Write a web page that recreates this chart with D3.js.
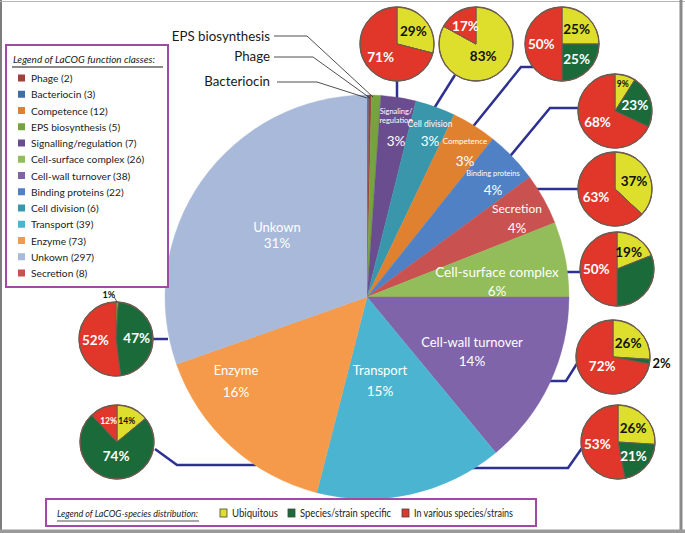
<!DOCTYPE html>
<html><head><meta charset="utf-8">
<script src="https://cdn.jsdelivr.net/npm/d3@7"></script>
<style>body{margin:0;background:#fff}svg{display:block;font-family:Lato,"Open Sans",sans-serif}</style>
</head><body><svg id="c" width="685" height="533"></svg>
<script>
// ---------- DATA ----------
const classNames = ["Phage","Bacteriocin","Competence","EPS biosynthesis","Signalling/regulation","Cell-surface complex","Cell-wall turnover","Binding proteins","Cell division","Transport","Enzyme","Unkown","Secretion"];
const classCounts = [2,3,12,5,7,26,38,22,6,39,73,297,8];
const classColors = ["#a0413d","#3d6ea5","#e0812f","#77a240","#6a4d8e","#93bc5a","#8064a9","#4f81c4","#3a97ab","#4bb5d1","#f59a4a","#a8b9d9","#c9514f"];
// main pie, clockwise from 12 o'clock
const pieOrder = ["Bacteriocin","Phage","EPS biosynthesis","Signalling/regulation","Cell division","Competence","Binding proteins","Secretion","Cell-surface complex","Cell-wall turnover","Transport","Enzyme","Unkown"];
const pieShares = [0.15,0.2,0.75,2.8,3.2,3.6,4.2,4.1,6,14,15,15.6,30.4];
const pieLabels = ["","","","3%","3%","3%","4%","4%","6%","14%","15%","16%","31%"];
const pieNames = ["","","","Signaling/|regulation","Cell division","Competence","Binding proteins","Secretion","Cell-surface complex","Cell-wall turnover","Transport","Enzyme","Unkown"];
const outsideNames = ["EPS biosynthesis","Phage","Bacteriocin"];
// species distribution pies
const distCategories = ["Ubiquitous","Species/strain specific","In various species/strains"];
const distColors = ["#dede2c","#1b6b3a","#e1362a"];
const distTextColors = ["#111","#fff","#fff"];
const distClasses = ["Signalling/regulation","Cell division","Competence","Binding proteins","Secretion","Cell-surface complex","Cell-wall turnover","Transport","Unkown","Enzyme"];
const distUbiquitous = [29,83,25,9,37,19,26,26,1,14];
const distSpecific   = [0,0,25,23,0,31,2,21,47,74];
const distVarious    = [71,17,50,68,63,50,72,53,52,12];
const distUnlabeled  = ["Cell-surface complex|1"];

// ---------- LAYOUT ----------
const svg = d3.select("#c");
const colorOf = d3.scaleOrdinal().domain(classNames).range(classColors);
const CX = 367, CY = 297, R = 202;

const mainLabelLayout = {
  "Signalling/regulation": {x:396, ny:116, py:141, ns:7.5, lh:8.5},
  "Cell division": {x:430, ny:124, py:141, ns:8.5},
  "Competence": {x:465, ny:141, py:161, ns:8},
  "Binding proteins": {x:493, ny:173, py:190, ns:7.5},
  "Secretion": {x:517, ny:208, py:228, ns:12},
  "Cell-surface complex": {x:497, ny:272, py:291, ns:13.5},
  "Cell-wall turnover": {x:472, ny:342, py:361, ns:13},
  "Transport": {x:380, ny:370, py:391, ns:13},
  "Enzyme": {x:236, ny:370, py:392, ns:13},
  "Unkown": {x:277, ny:227, py:243, ns:13}
};
const outsideLayout = {
  "EPS biosynthesis": {tx:270, ty:36, pts:[[274,36],[307,36],[373,97]]},
  "Phage": {tx:270, ty:56, pts:[[274,57],[313,57],[370,98]]},
  "Bacteriocin": {tx:270, ty:81, pts:[[277,82],[317,82],[367,98]]}
};
const smallLayout = {
  "Signalling/regulation": {cx:397, cy:44, lead:[[397,80],[397,101]]},
  "Cell division": {cx:476, cy:44, lead:[[455,75],[433,110]]},
  "Competence": {cx:562, cy:44, lead:[[534,67],[521,67],[467,134]]},
  "Binding proteins": {cx:615, cy:111, lead:[[580,108],[550,108],[507,160]]},
  "Secretion": {cx:615, cy:189, lead:[[535,189],[578,189]]},
  "Cell-surface complex": {cx:617, cy:269, lead:[[566,272],[580,272]]},
  "Cell-wall turnover": {cx:613, cy:357, lead:[[548,381],[566,381],[578,362]]},
  "Transport": {cx:618, cy:442, lead:[[470,468],[568,468],[582,448]]},
  "Unkown": {cx:116, cy:339, lead:[[153,339],[168,339]]},
  "Enzyme": {cx:117, cy:442, lead:[[155,449],[177,465],[256,465]]}
};
const SR = 37;

// frame
svg.append("rect").attr("width",685).attr("height",533).attr("fill","#fff");
svg.append("line").attr("x1",1).attr("x2",1).attr("y1",0).attr("y2",533).attr("stroke","#7d7d7d").attr("stroke-width",2);
svg.append("line").attr("x1",0).attr("x2",685).attr("y1",1.5).attr("y2",1.5).attr("stroke","#b5b5b5").attr("stroke-width",1.2);
svg.append("line").attr("x1",681).attr("x2",681).attr("y1",0).attr("y2",533).attr("stroke","#8a8a8a").attr("stroke-width",3);
svg.append("line").attr("x1",0).attr("x2",685).attr("y1",531.5).attr("y2",531.5).attr("stroke","#9a9a9a").attr("stroke-width",4);

// connector lines (drawn under pies)
const line = d3.line();
Object.values(smallLayout).forEach(l=>{
  svg.append("path").attr("d",line(l.lead)).attr("fill","none").attr("stroke","#2e3192").attr("stroke-width",2.5);
});

// main pie
const pieGen = d3.pie().sort(null).value(d=>d.v);
const mainData = pieGen(pieOrder.map((n,i)=>({name:n, v:pieShares[i], lab:pieLabels[i], nm:pieNames[i]})));
const arc = d3.arc().innerRadius(0).outerRadius(R);
const gMain = svg.append("g").attr("transform",`translate(${CX},${CY})`);
gMain.selectAll("path").data(mainData).join("path")
  .attr("d",arc).attr("fill",d=>colorOf(d.data.name))
  .attr("stroke",d=>colorOf(d.data.name)).attr("stroke-width",0.4);

// main labels
mainData.forEach(d=>{
  const L = mainLabelLayout[d.data.name];
  if(!L) return;
  const lines = d.data.nm.split("|");
  const lh = L.lh || L.ns*1.1;
  lines.forEach((t,i)=>{
    svg.append("text").attr("x",L.x).attr("y",L.ny + (i-(lines.length-1)/2)*lh)
      .attr("text-anchor","middle").attr("dominant-baseline","central")
      .attr("fill","#fff").attr("font-size",L.ns).text(t);
  });
  svg.append("text").attr("x",L.x).attr("y",L.py).attr("text-anchor","middle")
    .attr("dominant-baseline","central").attr("fill","#fff").attr("font-size",13.5).text(d.data.lab);
});

// outside labels for tiny slices
outsideNames.forEach(n=>{
  const L = outsideLayout[n];
  svg.append("path").attr("d",line(L.pts)).attr("fill","none").attr("stroke","#222").attr("stroke-width",0.8);
  svg.append("text").attr("x",L.tx).attr("y",L.ty).attr("text-anchor","end")
    .attr("dominant-baseline","central").attr("fill","#1a1a1a").attr("font-size",13.3).text(n);
});

// small pies
const sPie = d3.pie().sort(null).value(d=>d.v);
const sArc = d3.arc().innerRadius(0).outerRadius(SR);
distClasses.forEach((cls,ci)=>{
  const L = smallLayout[cls];
  const vals = [distUbiquitous[ci], distSpecific[ci], distVarious[ci]];
  const pd = sPie(vals.map((v,k)=>({v, k})));
  const g = svg.append("g").attr("transform",`translate(${L.cx},${L.cy})`);
  g.selectAll("path").data(pd).join("path").attr("d",sArc)
    .attr("fill",d=>distColors[d.data.k]).attr("stroke","#6e5b4f").attr("stroke-width",1);
  g.append("circle").attr("r",SR).attr("fill","none").attr("stroke","#6e5b4f").attr("stroke-width",1.3);
  pd.forEach(d=>{
    const v = d.data.v;
    if(v<=0 || distUnlabeled.includes(cls+"|"+d.data.k)) return;
    const mid = (d.startAngle+d.endAngle)/2;
    if(v<=2){
      if(Math.cos(mid)>0.9){
        const px = SR*Math.sin(mid), py = -SR*Math.cos(mid);
        g.append("line").attr("x1",px-3).attr("y1",py-5).attr("x2",px).attr("y2",py).attr("stroke","#333").attr("stroke-width",0.8);
        g.append("text").attr("x",px-2).attr("y",py-8).attr("text-anchor","end").attr("dominant-baseline","central")
          .attr("font-size",9).attr("font-weight","bold").attr("fill","#111").text(v+"%");
      } else {
        const rr = SR+12;
        g.append("text").attr("x",rr*Math.sin(mid)).attr("y",-rr*Math.cos(mid)).attr("text-anchor","middle")
          .attr("dominant-baseline","central").attr("font-size",13).attr("font-weight","bold").attr("fill","#111").text(v+"%");
      }
      return;
    }
    const f = v<10?0.75 : v<15?0.62 : v>=72?0.38 : 0.56;
    const fs = v<10?8.5 : v<15?8.5 : 13.5;
    const rr = SR*f;
    g.append("text").attr("x",rr*Math.sin(mid)).attr("y",-rr*Math.cos(mid))
      .attr("text-anchor","middle").attr("dominant-baseline","central")
      .attr("font-size",fs).attr("font-weight","bold").attr("fill",distTextColors[d.data.k]).text(v+"%");
  });
});

// function class legend
const lg = svg.append("g");
lg.append("rect").attr("x",6).attr("y",45).attr("width",162).attr("height",242)
  .attr("fill","#fff").attr("stroke","#a04aa3").attr("stroke-width",2);
lg.append("text").attr("x",13).attr("y",59).attr("font-size",10).attr("font-style","italic").attr("fill","#222")
  .attr("dominant-baseline","central").attr("textLength",142).attr("lengthAdjust","spacingAndGlyphs")
  .text("Legend of LaCOG function classes:");
lg.append("line").attr("x1",12).attr("x2",163).attr("y1",67).attr("y2",67).attr("stroke","#8a8a8a").attr("stroke-width",1.8);
const ly = d3.scalePoint().domain(classNames).range([78,273]);
classNames.forEach((n,i)=>{
  lg.append("rect").attr("x",18).attr("y",ly(n)-3.5).attr("width",7).attr("height",7).attr("fill",classColors[i]);
  lg.append("text").attr("x",31).attr("y",ly(n)).attr("dominant-baseline","central").attr("font-size",10.2)
    .attr("fill","#222").text(`${n} (${classCounts[i]})`);
});

// distribution legend
const bg = svg.append("g");
bg.append("rect").attr("x",46).attr("y",499).attr("width",490).attr("height",27)
  .attr("fill","#fff").attr("stroke","#a04aa3").attr("stroke-width",2);
bg.append("text").attr("x",57).attr("y",513).attr("font-size",9.5).attr("font-style","italic").attr("fill","#222")
  .attr("dominant-baseline","central").attr("textLength",141).attr("lengthAdjust","spacingAndGlyphs")
  .text("Legend of LaCOG-species distribution:");
bg.append("line").attr("x1",57).attr("x2",199).attr("y1",521).attr("y2",521).attr("stroke","#8a8a8a").attr("stroke-width",1.5);
const bx = [220,288,402];
const bw = [46,91,99];
distCategories.forEach((c,i)=>{
  bg.append("rect").attr("x",bx[i]).attr("y",509).attr("width",7).attr("height",8).attr("fill",distColors[i]).attr("stroke","#444").attr("stroke-width",0.8);
  bg.append("text").attr("x",bx[i]+12).attr("y",513).attr("dominant-baseline","central").attr("font-size",10.5)
    .attr("textLength",bw[i]).attr("lengthAdjust","spacingAndGlyphs")
    .attr("fill","#222").text(c);
});
</script></body></html>
